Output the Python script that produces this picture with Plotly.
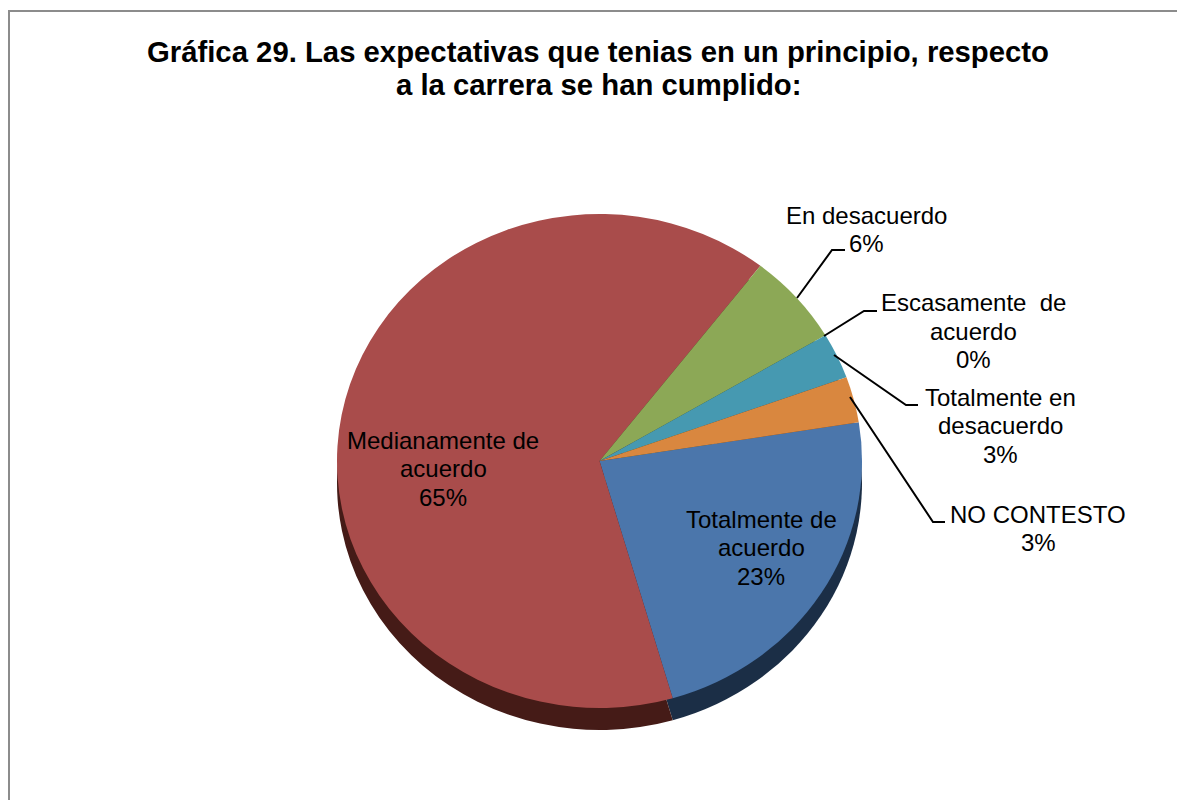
import plotly.graph_objects as go

W, H = 1177, 800

# --- data ---
labels = ["Totalmente de acuerdo", "Medianamente de acuerdo", "En desacuerdo",
          "Escasamente de acuerdo", "Totalmente en desacuerdo", "NO CONTESTO"]
label_lines = [["Totalmente de", "acuerdo"], ["Medianamente de", "acuerdo"], ["En desacuerdo"],
               ["Escasamente\u00a0 de", "acuerdo"], ["Totalmente en", "desacuerdo"], ["NO CONTESTO"]]
values = [23, 65, 6, 0, 3, 3]
top_colors = ["#4B76AB", "#A94C4B", "#8CA856", "#7D5FA0", "#4699B1", "#D9873F"]
side_colors = ["#1B2E46", "#451B17", "#3A4A20", "#33264A", "#1B4452", "#6B3F18"]
title_lines = ["Gráfica 29. Las expectativas que tenias en un principio, respecto",
               "a la carrera se han cumplido:"]

# --- layout helpers (pixels to paper) ---
px = lambda x: x / W
py = lambda y: 1 - y / H
CX, CY, R = 599.5, 461, 256
SX, SY = 262.5 / R, 247 / R          # the chart is viewed at a slight tilt
DEPTH = 22 / SY
START = 81
FONT = "Liberation Sans, Arial"
LINE = 28.5


def domain(cy):
    return dict(x=[px(CX - R), px(CX + R)], y=[py(cy + R), py(cy - R)])


label_top = [(761, 519), (443, 440), (866, 215), (973, 303), (1000, 397), (1038, 514)]
leaders = [None, None,
           [(797, 298), (832, 250), (845, 250)],
           [(824, 336), (864, 311), (877, 311)],
           [(834, 355), (906, 405), (918, 405)],
           [(850, 397), (933, 522), (945, 522)]]

fig = go.Figure()
for cy, colors in ((CY + DEPTH, side_colors), (CY, top_colors)):
    fig.add_trace(go.Pie(labels=labels, values=values, sort=False, direction="clockwise",
                         rotation=START, domain=domain(cy), textinfo="none",
                         marker=dict(colors=colors, line=dict(width=0)),
                         showlegend=False, hoverinfo="label+percent"))

annotations = []
for lines, value, (x, y) in zip(label_lines, values, label_top):
    for i, text in enumerate(lines + [f"{value}%"]):
        annotations.append(dict(text=text, x=px(x), y=py(y + i * LINE), xref="paper", yref="paper",
                                xanchor="center", yanchor="middle", showarrow=False,
                                font=dict(family=FONT, size=24, color="#000000")))
annotations.append(dict(text=f"<b>{title_lines[1]}</b>", x=px(598), y=py(85), xref="paper", yref="paper",
                        xanchor="center", yanchor="middle", showarrow=False,
                        font=dict(family=FONT, size=29.3, color="#000000")))

shapes = [dict(type="path", xref="paper", yref="paper", layer="below",
               path=f"M {px(W)} {py(11)} L {px(9)} {py(11)} L {px(9)} {py(H)}",
               line=dict(color="#8C8C8C", width=2))]
for pts in leaders:
    if pts:
        path = "M " + " L ".join(f"{px(a)} {py(b)}" for a, b in pts)
        shapes.append(dict(type="path", xref="paper", yref="paper", path=path,
                           line=dict(color="#000000", width=2)))

fig.update_layout(
    width=W, height=H, margin=dict(l=0, r=0, t=0, b=0),
    paper_bgcolor="#FFFFFF",
    title=dict(text=f"<b>{title_lines[0]}</b>", x=598 / W, xanchor="center", y=py(52), yanchor="middle",
               font=dict(family=FONT, size=29.3, color="#000000")),
    annotations=annotations, shapes=shapes,
)
post = ("document.body.style.margin='0';document.documentElement.style.overflow='hidden';"
        "document.querySelectorAll('.pielayer .trace').forEach(function(t){"
        f"t.style.transformOrigin='{CX}px {CY}px';t.style.transform='scale({SX},{SY})';}});")
fig.write_html("out.html", post_script=post, config=dict(displayModeBar=False))
